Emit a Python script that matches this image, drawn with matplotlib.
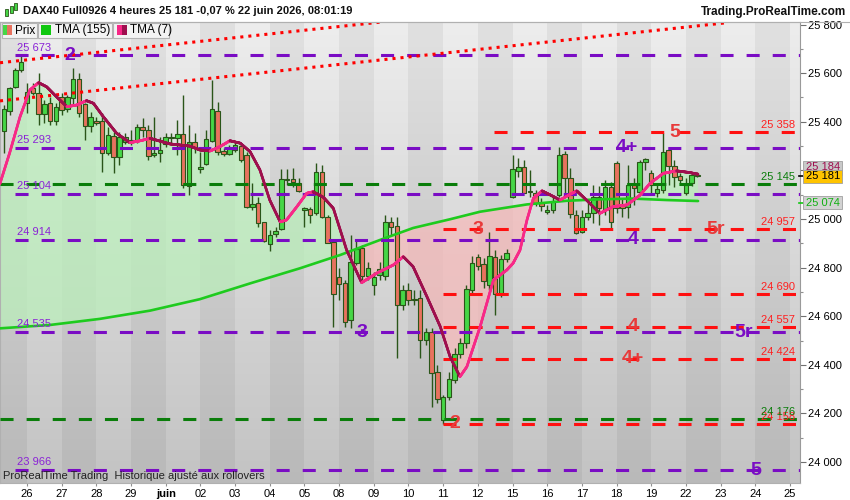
import numpy as np
import matplotlib
matplotlib.use("Agg")
import matplotlib.pyplot as plt
from matplotlib.collections import LineCollection
from matplotlib.patches import Rectangle
from matplotlib.ticker import MultipleLocator, FuncFormatter, FixedLocator

plt.rcParams['font.family'] = ['Liberation Sans', 'DejaVu Sans']
plt.rcParams['lines.scale_dashes'] = False

# ---------------- data ----------------
title = "DAX40 Full0926 4 heures 25 181 -0,07 % 22 juin 2026, 08:01:19"
site = "Trading.ProRealTime.com"
footer = "ProRealTime Trading  Historique ajusté aux rollovers"

day_labels = ['26', '27', '28', '29', 'juin', '02', '03', '04', '05', '08', '09', '10',
              '11', '12', '15', '16', '17', '18', '19', '22', '23', '24', '25']
bars_per_day = 6
first_slot = 2   # first visible 4h bar is the 3rd slot of 25 May

opens = [25363, 25446, 25542, 25613, 25476, 25538, 25520, 25432, 25476, 25405,
         25501, 25451, 25497, 25575, 25473, 25383, 25405, 25405, 25273, 25342,
         25256, 25318, 25318, 25322, 25377, 25366, 25263, 25270, 25309, 25332,
         25335, 25349, 25137, 25318, 25205, 25225, 25322, 25446, 25280, 25266,
         25284, 25302, 25263, 25048, 25065, 24986, 24897, 24937, 24958, 25161,
         25163, 25147, 25037, 25040, 25023, 25195, 25010, 24907, 24763, 24738,
         24584, 24818, 24880, 24766, 24728, 24768, 24766, 24989, 24971, 24646,
         24708, 24667, 24674, 24502, 24534, 24372, 24174, 24269, 24338, 24445,
         24489, 24708, 24842, 24814, 24728, 24845, 24691, 24834, 25089, 25199,
         25213, 25111, 25106, 25065, 25029, 25037, 25099, 25267, 25167, 25017,
         24948, 25007, 25023, 25092, 25040, 25131, 25232, 25054, 25051, 25140,
         25113, 25236, 25188, 25106, 25119, 25284, 25219, 25177, 25106, 25147,
         25177]
highs = [25469, 25542, 25620, 25673, 25560, 25561, 25600, 25490, 25503, 25476,
         25517, 25510, 25620, 25602, 25476, 25442, 25421, 25435, 25380, 25359,
         25359, 25354, 25366, 25391, 25414, 25387, 25421, 25339, 25354, 25354,
         25407, 25510, 25387, 25354, 25277, 25366, 25572, 25483, 25292, 25305,
         25318, 25309, 25277, 25147, 25092, 24989, 24955, 24968, 25205, 25205,
         25209, 25168, 25051, 25051, 25229, 25222, 25016, 24914, 24799, 24749,
         24934, 24914, 24893, 24823, 24782, 24823, 25016, 25010, 25010, 24728,
         24737, 24708, 24708, 24552, 24552, 24399, 24276, 24371, 24469, 24510,
         24728, 24848, 24856, 24840, 24948, 24873, 24852, 24877, 25263, 25251,
         25243, 25202, 25119, 25086, 25058, 25099, 25296, 25280, 25210, 25037,
         25037, 25078, 25140, 25136, 25161, 25152, 25240, 25086, 25222, 25169,
         25243, 25251, 25202, 25140, 25353, 25292, 25243, 25189, 25169, 25194,
         25194]
lows = [25273, 25428, 25538, 25606, 25436, 25510, 25387, 25394, 25387, 25387,
        25428, 25442, 25469, 25421, 25325, 25359, 25387, 25195, 25263, 25188,
        25222, 25309, 25305, 25313, 25339, 25243, 25256, 25236, 25298, 25305,
        25263, 25126, 25099, 25272, 25188, 25222, 25318, 25263, 25259, 25263,
        25277, 25236, 25044, 25037, 24968, 24907, 24870, 24927, 24955, 25140,
        25133, 25113, 24968, 24982, 25016, 25003, 24900, 24557, 24667, 24557,
        24550, 24811, 24749, 24749, 24687, 24749, 24749, 24934, 24428, 24626,
        24646, 24646, 24428, 24482, 24226, 24243, 24158, 24255, 24325, 24428,
        24469, 24696, 24790, 24716, 24708, 24605, 24679, 24823, 25085, 25174,
        25106, 25091, 25054, 25033, 25021, 25025, 25091, 25107, 25004, 24938,
        24941, 24996, 24984, 24975, 25016, 24962, 25025, 25008, 25003, 25058,
        25099, 25202, 25099, 25091, 25107, 25140, 25133, 25148, 25099, 25136,
        25174]
closes = [25451, 25538, 25613, 25647, 25524, 25520, 25432, 25473, 25405, 25460,
          25449, 25501, 25575, 25435, 25383, 25421, 25396, 25270, 25346, 25254,
          25339, 25339, 25325, 25377, 25366, 25259, 25270, 25284, 25336, 25336,
          25349, 25140, 25316, 25291, 25215, 25328, 25451, 25277, 25266, 25293,
          25305, 25243, 25051, 25061, 24982, 24911, 24934, 24952, 25163, 25163,
          25151, 25117, 25044, 25016, 25195, 25010, 24903, 24691, 24733, 24577,
          24825, 24876, 24766, 24797, 24763, 24793, 24989, 24968, 24646, 24708,
          24667, 24671, 24502, 24534, 24365, 24258, 24267, 24341, 24445, 24489,
          24711, 24818, 24807, 24745, 24848, 24691, 24834, 24859, 25205, 25213,
          25108, 25115, 25065, 25054, 25037, 25075, 25263, 25167, 25021, 24941,
          25010, 25023, 25089, 25044, 25133, 24986, 25044, 25044, 25140, 25126,
          25236, 25246, 25140, 25124, 25277, 25218, 25172, 25161, 25140, 25181,
          25181]

# TMA(7) read at bar positions
tma7_x = [-0.7, 1.0, 2.8, 4.5, 6.0, 7.4, 9.1, 10.9, 12.6, 14.3, 15.5, 17.2, 19.5,
          21.8, 23.6, 25.3, 28.7, 32.2, 33.9, 35.7, 37.4, 39.1, 40.9, 42.6, 44.3,
          46.0, 47.8, 48.9, 50.7, 52.4, 53.5, 55.3, 57.0, 59.3, 61.9, 64.5, 67.4,
          69.1, 70.8, 73.2, 75.5, 77.2, 78.9, 80.1, 82.4, 84.7, 87.0, 88.1, 89.3,
          90.5, 91.6, 93.1, 95.1, 96.2, 99.1, 100.8, 103.1, 105.4, 107.8, 110.1,
          111.8, 114.1, 116.4, 118.7, 120.1]
tma7_v = [25144, 25272, 25421, 25531, 25561, 25544, 25503, 25462, 25469, 25487,
          25476, 25421, 25353, 25314, 25322, 25332, 25309, 25300, 25284, 25280,
          25298, 25322, 25312, 25277, 25202, 25078, 24988, 24996, 25051, 25106,
          25112, 25089, 25044, 24872, 24738, 24777, 24811, 24845, 24804, 24680,
          24557, 24433, 24351, 24392, 24557, 24749, 24790, 24818, 24872, 24996,
          25085, 25116, 25092, 25078, 25116, 25078, 25023, 25051, 25058, 25099,
          25147, 25188, 25198, 25191, 25184]
# TMA(155) read at bar positions
tma155_x = [-0.7, 8.0, 16.6, 25.3, 33.9, 42.6, 51.2, 58.2, 65.1, 70.8, 77.2, 82.4,
            90.5, 97.4, 103.1, 108.8, 114.7, 120.1]
tma155_v = [24550, 24564, 24589, 24623, 24670, 24735, 24797, 24852, 24914, 24963,
            24999, 25030, 25060, 25075, 25081, 25084, 25078, 25074]

purple_levels = [25673, 25293, 25104, 24914, 24535, 23966]
green_levels = [25145, 24176]
red_levels = [25358, 24957, 24690, 24557, 24424, 24158]

trend_upper_x = [-0.67, 65.1]
trend_upper_v = [25643, 25810]
trend_lower_x = [-0.67, 124.8]
trend_lower_v = [25486, 25807]

last_price = 25181
tma7_last = 25184
tma155_last = 25074

# ---------------- figure ----------------
W, H = 850, 500
fig = plt.figure(figsize=(W / 100, H / 100), dpi=100)
fig.patch.set_facecolor('white')


def fx(px):
    return px / W


def fy(py):
    return 1 - py / H


ax_left, ax_top, ax_right, ax_bot = 0, 22, 800, 483
ax = fig.add_axes([fx(ax_left), fy(ax_bot), (ax_right - ax_left) / W, (ax_bot - ax_top) / H])

PX_PER_BAR = 5.78
BAR0_PX = 3.88
P_PER_PX = 4.115


def bar_of(px):
    return (px - BAR0_PX) / PX_PER_BAR


xmin, xmax = bar_of(ax_left), bar_of(ax_right)
ymin = 25000 - (ax_bot - 219) * P_PER_PX
ymax = 25000 + (219 - ax_top) * P_PER_PX
ax.set_xlim(xmin, xmax)
ax.set_ylim(ymin, ymax)

# background: vertical gradient + alternate day bands
grad = np.linspace(0.93, 0.765, 256)[:, None]
img = np.dstack([grad, grad, grad])
ax.imshow(img, extent=(xmin, xmax, ymin, ymax), origin='upper', aspect='auto', zorder=0)
n_days = len(day_labels)
for d in range(-1, n_days + 1):
    start = (d + 1) * bars_per_day - first_slot
    if d % 2 != 0:
        ax.axvspan(start, start + bars_per_day, color='black', alpha=0.05, lw=0, zorder=0.5)

o = np.array(opens, float)
h = np.array(highs, float)
l = np.array(lows, float)
c = np.array(closes, float)
xb = np.arange(len(o))

# fill between TMA7 and TMA155
xs = np.linspace(tma7_x[0], tma7_x[-1], 3000)
t7 = np.interp(xs, tma7_x, tma7_v)
t155 = np.interp(xs, tma155_x, tma155_v)
ax.fill_between(xs, t7, t155, where=t7 >= t155, interpolate=True, color='#b9f0b9', alpha=0.7, lw=0, zorder=1)
ax.fill_between(xs, t7, t155, where=t7 < t155, interpolate=True, color='#f7b9b9', alpha=0.7, lw=0, zorder=1)

# candles
edge = '#2a5519'
up_col, dn_col = '#46d646', '#e8725e'
body_cols = [up_col if cc >= oo else dn_col for oo, cc in zip(o, c)]
ax.vlines(xb, l, h, colors=edge, lw=1.0, zorder=3)
hgt = np.maximum(np.abs(c - o), 5)
ax.bar(xb, hgt, bottom=np.minimum(o, c), width=0.78, color=body_cols, edgecolor=edge,
       linewidth=0.8, zorder=3.5)

# TMA155
ax.plot(tma155_x, tma155_v, color='#1ecb1e', lw=1.9, zorder=4.5, solid_capstyle='round')

# dashed levels
dash = (0, (9.4, 9.4))
lw_d = 2.2
purple_c = '#7a0cc4'
green_c = '#0a7d0a'
red_c = '#ff1010'
for lv in purple_levels:
    ax.plot([bar_of(15), xmax], [lv, lv], color=purple_c, lw=lw_d, ls=dash, zorder=5, dash_capstyle='butt')
for lv in green_levels:
    ax.plot([xmin, xmax], [lv, lv], color=green_c, lw=lw_d, ls=dash, zorder=5, dash_capstyle='butt')
for lv in red_levels:
    x0 = bar_of(494) if lv == red_levels[0] else bar_of(443)
    ax.plot([x0, bar_of(797)], [lv, lv], color=red_c, lw=lw_d, ls=dash, zorder=5, dash_capstyle='butt')

# dotted trend lines
for tx, tv in ((trend_upper_x, trend_upper_v), (trend_lower_x, trend_lower_v)):
    ax.plot(tx, tv, color='#ff0000', lw=2.2, ls=(0, (2.2, 3.6)), dash_capstyle='butt', zorder=5)

# TMA7 coloured by slope
pts = np.column_stack([xs, t7])
segs = np.stack([pts[:-1], pts[1:]], axis=1)
rising = np.diff(t7) >= 0
seg_cols = np.where(rising[:, None], np.array([[0.97, 0.16, 0.53]]), np.array([[0.62, 0.06, 0.30]]))
lc = LineCollection(segs, colors=seg_cols, linewidths=1.9, zorder=6, capstyle='round')
ax.add_collection(lc)

# level value labels
lab_fs = 8


def fmt(v):
    return f"{v:,}".replace(",", " ")


for lv in purple_levels:
    ax.annotate(fmt(lv), (bar_of(17), lv), xytext=(0, 2), textcoords='offset points',
                ha='left', va='bottom', fontsize=lab_fs, color='#8a22d6', zorder=7)
for lv in red_levels:
    ax.annotate(fmt(lv), (bar_of(795), lv), xytext=(0, 1.5), textcoords='offset points',
                ha='right', va='bottom', fontsize=lab_fs, color='#ff2020', zorder=7)
for lv in green_levels:
    ax.annotate(fmt(lv), (bar_of(795), lv), xytext=(0, 1.5), textcoords='offset points',
                ha='right', va='bottom', fontsize=lab_fs, color='#0a7d0a', zorder=7)

# wave labels
wave_labels = [
    ("2", 70, purple_levels[0], purple_c), ("4+", 627, purple_levels[1], purple_c),
    ("4", 633, purple_levels[3], purple_c), ("3", 362, purple_levels[4], purple_c),
    ("5r", 744, purple_levels[4], purple_c), ("5", 756, purple_levels[5], purple_c),
    ("5", 675, red_levels[0], '#e83a3a'), ("5r", 716, red_levels[1], '#e83a3a'),
    ("3", 478, red_levels[1], '#e83a3a'), ("4", 633, red_levels[3], '#e83a3a'),
    ("4+", 633, red_levels[4], '#e83a3a'), ("2", 455, red_levels[5], '#e83a3a'),
]
for txt, px, lv, col in wave_labels:
    ax.text(bar_of(px), lv, txt, ha='center', va='center', fontsize=14, fontweight='bold',
            color=col, zorder=7)

# axes styling
for s in ('top', 'left', 'bottom'):
    ax.spines[s].set_color('#b0b0b0')
    ax.spines[s].set_linewidth(0.8)
ax.spines['right'].set_color('#9a9a9a')
ax.spines['right'].set_linewidth(0.8)

ax.yaxis.tick_right()
ax.yaxis.set_major_locator(MultipleLocator(200))
ax.yaxis.set_minor_locator(MultipleLocator(100))
ax.yaxis.set_major_formatter(FuncFormatter(lambda v, p: fmt(int(round(v)))))
ax.tick_params(axis='y', which='major', length=4, width=0.8, color='#707070', labelsize=8, pad=1.5,
               labelcolor='black')
ax.tick_params(axis='y', which='minor', length=2.5, width=0.8, color='#909090')

tick_pos = [(d + 1) * bars_per_day - first_slot for d in range(n_days)]
ax.xaxis.set_major_locator(FixedLocator(tick_pos))
ax.set_xticklabels(day_labels)
ax.tick_params(axis='x', length=2.5, width=0.8, color='#909090', labelsize=8, pad=1.5, labelcolor='black')
for t in ax.get_xticklabels():
    if t.get_text() == 'juin':
        t.set_fontweight('bold')

# ---------------- header / legend ----------------
fig.add_artist(plt.Line2D([0, 1], [fy(21.5), fy(21.5)], transform=fig.transFigure, color='#b0b0b0', lw=0.8))
for (x0, y0, y1, col) in ((5, 9, 16, '#46d646'), (9.5, 6, 13, '#46d646'), (14, 3, 10, '#46d646')):
    fig.add_artist(Rectangle((fx(x0), fy(y1)), 3 / W, (y1 - y0) / H, transform=fig.transFigure,
                             fc=col, ec=edge, lw=0.6))
fig.text(fx(23), fy(11.5), title, fontsize=8, fontweight='bold', va='center', ha='left', color='#111111')
fig.text(fx(846), fy(12), site, fontsize=8.5, fontweight='bold', va='center', ha='right', color='#111111')


def frect(x0, y0, x1, y1, fc, ec='none', lw=0.0, z=10):
    fig.add_artist(Rectangle((fx(x0), fy(y1)), (x1 - x0) / W, (y1 - y0) / H,
                             transform=fig.transFigure, fc=fc, ec=ec, lw=lw, zorder=z))


frect(2, 23, 37, 37.5, '#f3f3f3', '#b4b4b4', 0.8)
frect(3, 25.5, 7.2, 34.5, '#46d646', z=11)
frect(7.2, 25.5, 11.7, 34.5, '#e8725e', z=11)
fig.text(fx(15), fy(30.5), "Prix", fontsize=8.5, va='center', ha='left', zorder=12)
frect(38, 23, 112, 37.5, '#f3f3f3', '#b4b4b4', 0.8)
frect(41, 25.5, 50.7, 34.5, '#10c810', z=11)
fig.text(fx(55), fy(30.5), "TMA (155)", fontsize=8.5, va='center', ha='left', zorder=12)
frect(113.5, 23, 168.5, 37.5, '#f3f3f3', '#b4b4b4', 0.8)
frect(116.7, 25.5, 121.7, 34.5, '#f72887', z=11)
frect(121.7, 25.5, 126.7, 34.5, '#9e0e4e', z=11)
fig.text(fx(130), fy(30.5), "TMA (7)", fontsize=8.5, va='center', ha='left', zorder=12)

# ---------------- right price boxes ----------------
frect(803, 161, 842, 175, '#c9c9c9', '#a0a0a0', 0.6)
fig.text(fx(806), fy(167.5), fmt(tma7_last), fontsize=8, va='center', ha='left', color='#9e0e4e', zorder=12)
frect(803, 169.5, 842, 183, '#ffc400', '#a0a0a0', 0.6, z=13)
fig.text(fx(806), fy(176.3), fmt(last_price), fontsize=8, va='center', ha='left', color='black', zorder=14)
frect(803, 196, 842, 209, '#d2d2d2', '#a0a0a0', 0.6)
fig.text(fx(806), fy(202.5), fmt(tma155_last), fontsize=8, va='center', ha='left', color='#10b010', zorder=12)
fig.add_artist(plt.Line2D([fx(799), fx(803)], [fy(176), fy(176)], transform=fig.transFigure, color='black', lw=1.2))
fig.add_artist(plt.Line2D([fx(799), fx(803)], [fy(202.5), fy(202.5)], transform=fig.transFigure, color='#10c810', lw=1.2))

# footer
fig.text(fx(3), fy(476), footer, fontsize=8, va='center', ha='left', color='#222222')

fig.savefig('out.png', dpi=100)
